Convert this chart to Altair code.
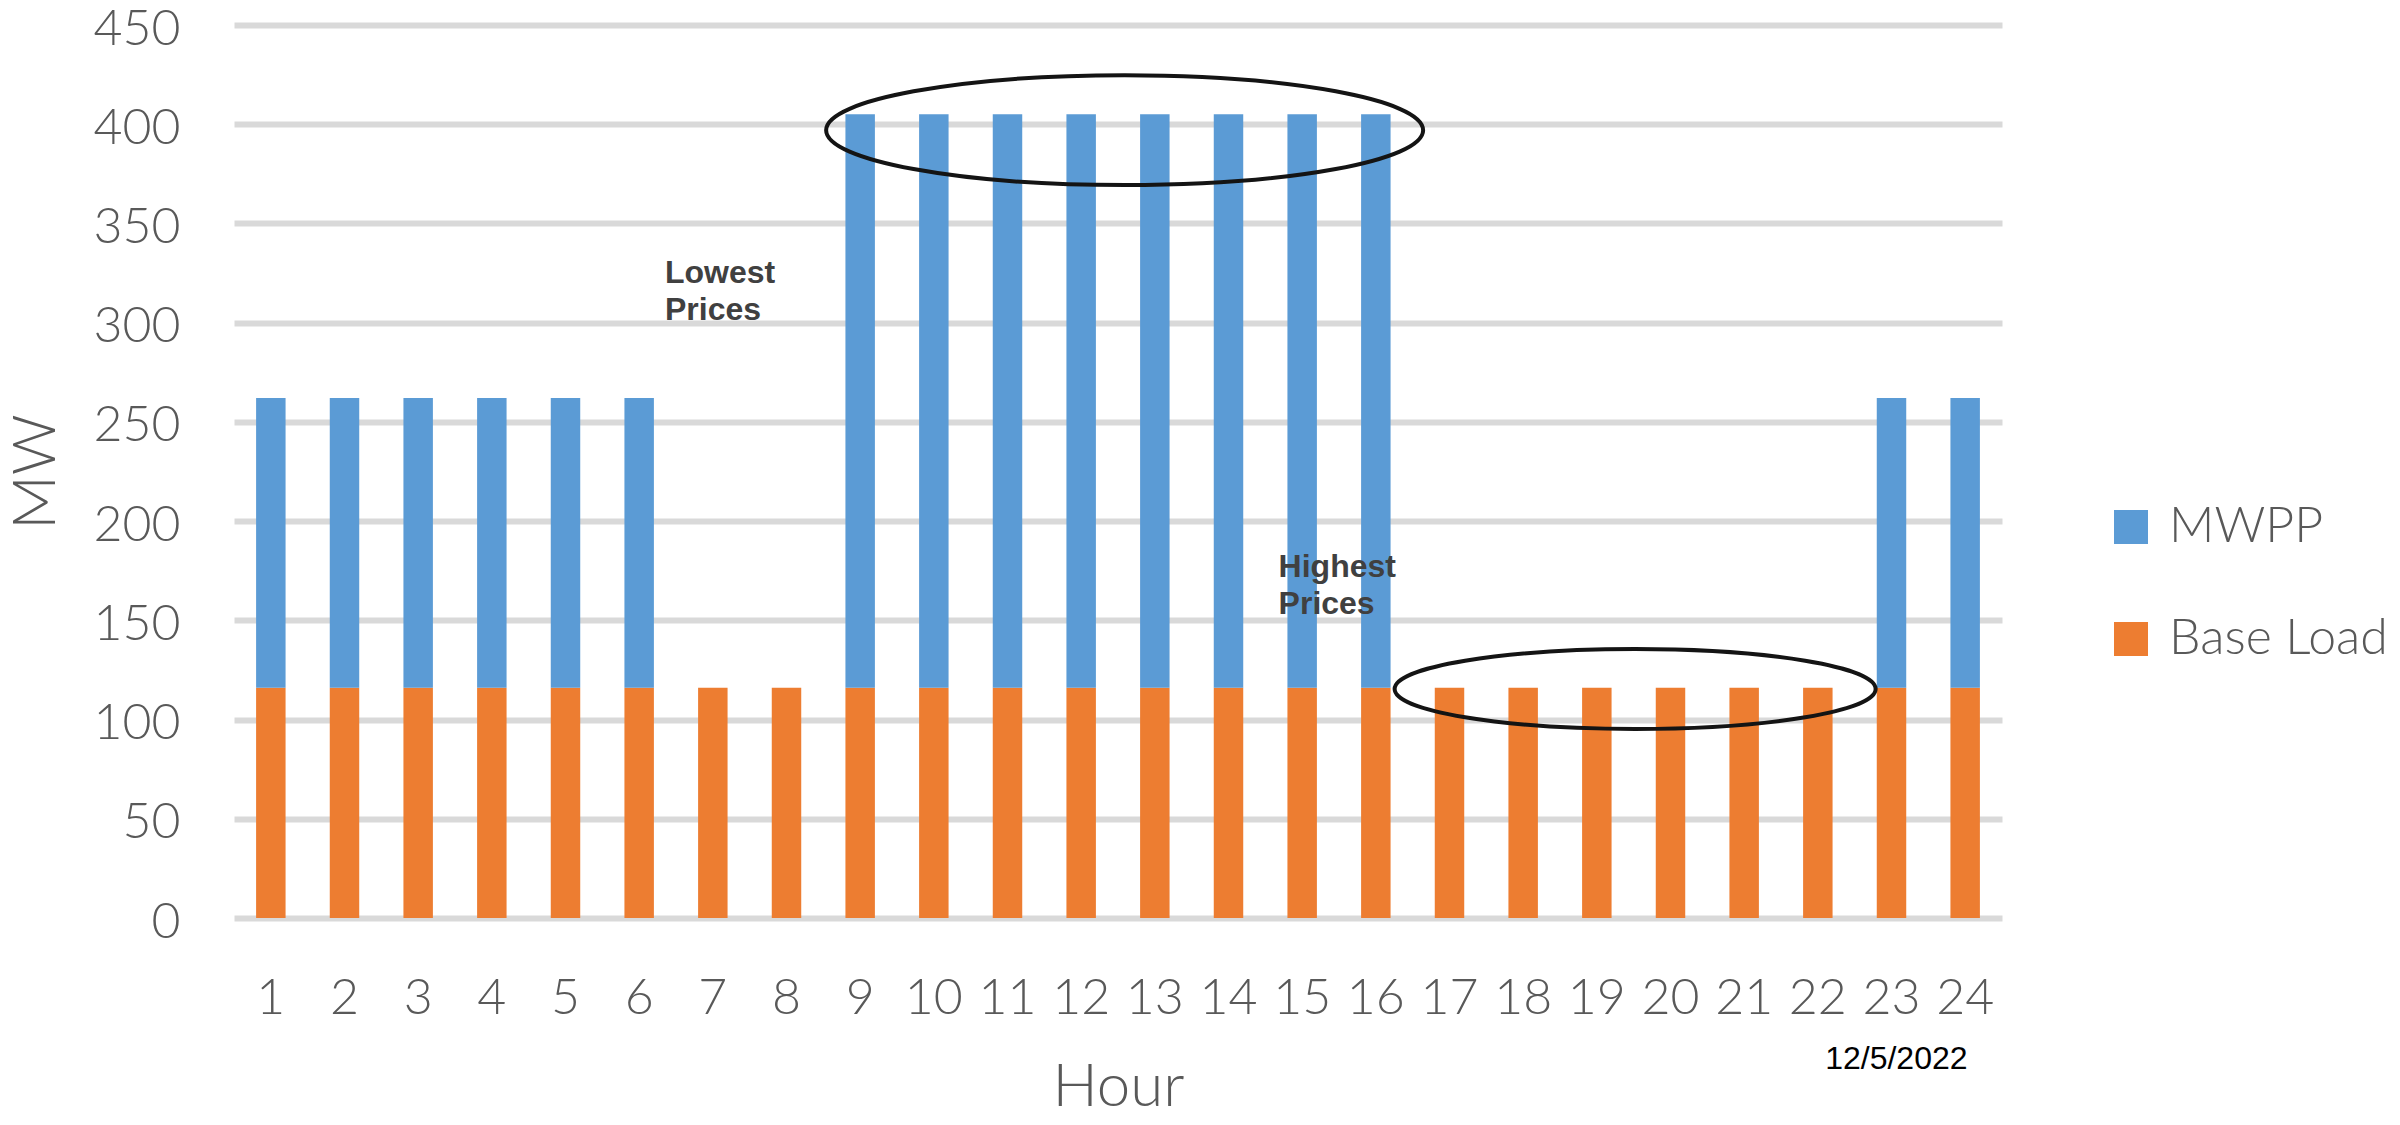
import altair as alt
import pandas as pd

# ---- data ----
hours = list(range(1, 25))
base_load = [116, 116, 116, 116, 116, 116, 116, 116, 116, 116, 116, 116,
             116, 116, 116, 116, 116, 116, 116, 116, 116, 116, 116, 116]
mwpp = [146, 146, 146, 146, 146, 146, 0, 0, 289, 289, 289, 289,
        289, 289, 289, 289, 0, 0, 0, 0, 0, 0, 146, 146]
series_names = ["MWPP", "Base Load"]
series_colors = ["#5B9BD5", "#ED7D31"]
y_ticks = [0, 50, 100, 150, 200, 250, 300, 350, 400, 450]

# annotations (hour position on a continuous hour axis, MW value)
note_text = ["Lowest\nPrices", "Highest\nPrices"]
note_hour = [6.35, 14.68]
note_mw = [320, 172]

date_text = ["12/5/2022"]
date_hour = [22.1]
date_mw = [-76]

ellipse_hour = [12.59, 19.52]
ellipse_mw = [397, 115.4]

# ---- tables ----
rows = []
for h, b, m in zip(hours, base_load, mwpp):
    rows.append({"Hour": h, "Series": "Base Load", "MW": b, "Stack": 0})
    rows.append({"Hour": h, "Series": "MWPP", "MW": m, "Stack": 1})
df = pd.DataFrame(rows)

notes_df = pd.DataFrame({"t": note_text, "h": note_hour, "MW": note_mw})
date_df = pd.DataFrame({"t": date_text, "h": date_hour, "MW": date_mw})
ell1_df = pd.DataFrame({"h": ellipse_hour[:1], "MW": ellipse_mw[:1]})
ell2_df = pd.DataFrame({"h": ellipse_hour[1:], "MW": ellipse_mw[1:]})

W, H = 1768, 893
xq = alt.Scale(domain=[0.5, 24.5], nice=False, zero=False)
ys = alt.Scale(domain=[0, 450], nice=False, zero=True)

y_axis = alt.Axis(values=y_ticks, ticks=False, tickSize=0, domain=False,
                  grid=True, gridColor="#D9D9D9", gridWidth=6,
                  labelPadding=54, labelOffset=4, title="MW", titleAngle=-90,
                  titleBaseline="alphabetic", titleX=-180, titleY=H / 2)

bars = alt.Chart(df).mark_bar().encode(
    x=alt.X("Hour:O", title="Hour",
            scale=alt.Scale(paddingInner=0.6, paddingOuter=0.3),
            axis=alt.Axis(labelAngle=0, ticks=False, tickSize=0, domain=False,
                          grid=False, labelPadding=55,
                          titleBaseline="alphabetic", titleY=187, titleX=W / 2)),
    y=alt.Y("MW:Q", stack="zero", scale=ys, axis=y_axis),
    color=alt.Color("Series:N",
                    scale=alt.Scale(domain=series_names, range=series_colors),
                    legend=alt.Legend(title=None, orient="none", legendX=1872,
                                      legendY=477, symbolType="square",
                                      symbolSize=1156, symbolStrokeWidth=0,
                                      labelFontSize=50, labelOffset=13,
                                      labelLimit=0, rowPadding=62)),
    order=alt.Order("Stack:Q"),
)

ell_path1 = "M -1 0 A 1 0.184 0 1 0 1 0 A 1 0.184 0 1 0 -1 0 Z"
ell_path2 = "M -1 0 A 1 0.166 0 1 0 1 0 A 1 0.166 0 1 0 -1 0 Z"

ell1 = alt.Chart(ell1_df).mark_point(
    shape=ell_path1, size=356409, filled=False, stroke="#141414",
    strokeWidth=4, opacity=1
).encode(x=alt.X("h:Q", scale=xq, axis=None), y=alt.Y("MW:Q", scale=ys, axis=y_axis))

ell2 = alt.Chart(ell2_df).mark_point(
    shape=ell_path2, size=231361, filled=False, stroke="#141414",
    strokeWidth=4, opacity=1
).encode(x=alt.X("h:Q", scale=xq, axis=None), y=alt.Y("MW:Q", scale=ys, axis=y_axis))

notes = alt.Chart(notes_df).mark_text(
    align="left", baseline="alphabetic", font="Liberation Sans",
    fontWeight="bold", fontSize=32, lineHeight=37, lineBreak="\n",
    color="#404040"
).encode(x=alt.X("h:Q", scale=xq, axis=None), y=alt.Y("MW:Q", scale=ys, axis=y_axis),
         text="t:N")

date = alt.Chart(date_df).mark_text(
    align="left", baseline="alphabetic",
    font="Liberation Sans Narrow, Liberation Sans", fontSize=32, color="#000000"
).encode(x=alt.X("h:Q", scale=xq, axis=None), y=alt.Y("MW:Q", scale=ys, axis=y_axis),
         text="t:N")

chart = alt.layer(bars, ell1, ell2, notes, date).resolve_scale(
    x="independent"
).properties(
    width=W, height=H,
    autosize=alt.AutoSizeParams(type="none"),
    padding={"left": 226, "top": 17, "right": 390, "bottom": 199},
    background="white",
).configure_view(stroke=None).configure_axis(
    labelFont="Lato", labelFontWeight=300, labelFontSize=50, labelColor="#595959",
    titleFont="Lato", titleFontWeight=300, titleFontSize=60, titleColor="#595959",
).configure_legend(
    labelFont="Lato", labelFontWeight=300, labelColor="#595959",
)

chart.save("out.html", embed_options={"renderer": "svg", "actions": False})
